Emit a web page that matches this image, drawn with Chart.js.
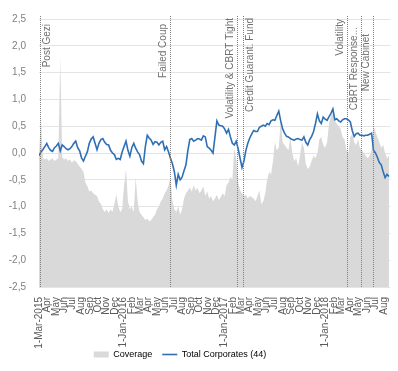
<!DOCTYPE html>
<html>
<head>
<meta charset="utf-8">
<script src="https://cdn.jsdelivr.net/npm/chart.js@4.4.1/dist/chart.umd.min.js"></script>
<style>
  html, body { margin: 0; padding: 0; background: #ffffff; }
  #wrap { width: 398px; height: 371px; }
</style>
</head>
<body>
<div id="wrap"><canvas id="c" width="398" height="371"></canvas></div>
<script>
// Weekly observations starting 1 March 2015 (one value per week).
const START = Date.UTC(2015, 2, 1);
const DAY_MS = 86400000;
const MONTH_NAMES = ['Jan', 'Feb', 'Mar', 'Apr', 'May', 'Jun', 'Jul', 'Aug', 'Sep', 'Oct', 'Nov', 'Dec'];

const TOTAL_CORPORATES = [
  -0.05, 0.02, 0.06, 0.12, 0.18, 0.10, 0.05, 0.03, 0.10, 0.13,
  0.18, 0.04, 0.15, 0.12, 0.08, 0.06, 0.08, 0.12, 0.18, 0.22,
  0.10, 0.04, -0.09, -0.15, -0.06, 0.02, 0.18, 0.26, 0.30, 0.18,
  0.06, 0.18, 0.25, 0.27, 0.20, 0.16, 0.15, 0.05, 0.00, -0.03,
  -0.12, -0.10, -0.12, 0.02, 0.12, 0.22, 0.05, -0.06, 0.10, 0.18,
  0.09, 0.02, -0.03, -0.15, -0.20, 0.12, 0.33, 0.28, 0.24, 0.16,
  0.21, 0.20, 0.15, 0.20, 0.22, 0.06, 0.12, 0.02, -0.10, -0.20,
  -0.35, -0.60, -0.40, -0.50, -0.45, -0.33, -0.22, 0.05, 0.25, 0.27,
  0.22, 0.24, 0.27, 0.26, 0.24, 0.32, 0.30, 0.12, 0.09, 0.05,
  0.00, 0.30, 0.60, 0.52, 0.51, 0.50, 0.45, 0.37, 0.44, 0.30,
  0.18, 0.15, 0.22, 0.08, -0.10, -0.27, -0.15, 0.05, 0.18, 0.28,
  0.35, 0.42, 0.40, 0.40, 0.48, 0.50, 0.52, 0.50, 0.55, 0.53,
  0.60, 0.62, 0.61, 0.70, 0.78, 0.60, 0.45, 0.37, 0.31, 0.30,
  0.27, 0.25, 0.24, 0.26, 0.27, 0.25, 0.24, 0.30, 0.20, 0.15,
  0.25, 0.31, 0.40, 0.55, 0.73, 0.60, 0.55, 0.67, 0.63, 0.61,
  0.68, 0.74, 0.82, 0.62, 0.64, 0.60, 0.58, 0.62, 0.64, 0.64,
  0.62, 0.58, 0.42, 0.31, 0.36, 0.37, 0.33, 0.33, 0.32, 0.33,
  0.33, 0.35, 0.37, 0.05, 0.00, -0.08, -0.18, -0.22, -0.35, -0.46,
  -0.40, -0.44
];

const COVERAGE = [
  -0.05, 0.70, -0.10, -0.12, -0.10, -0.15, -0.12, -0.10, -0.15, -0.12,
  -0.10, 1.80, -0.08, -0.12, -0.10, -0.15, -0.12, -0.18, -0.14, -0.15,
  -0.20, -0.25, -0.30, -0.35, -0.55, -0.62, -0.72, -0.70, -0.75, -0.78,
  -0.80, -0.90, -0.95, -1.05, -1.10, -1.05, -1.12, -1.05, -1.10, -0.95,
  -0.78, -1.00, -1.10, -1.05, -0.60, -0.30, -0.90, -1.05, -1.00, -1.10,
  -0.45, -0.90, -1.10, -1.15, -1.20, -1.25, -1.22, -1.28, -1.25, -1.20,
  -1.15, -1.05, -1.00, -0.90, -0.85, -0.75, -0.70, -0.60, -0.45, -0.90,
  -1.05, -1.10, -1.00, -1.15, -1.05, -0.85, -0.75, -0.70, -0.65, -0.72,
  -0.60, -0.70, -0.65, -0.75, -0.70, -0.62, -0.80, -0.72, -0.85, -0.80,
  -0.90, -0.85, -0.78, -0.88, -0.82, -0.75, -0.80, -0.60, -0.55, -0.45,
  -0.50, 0.10, -0.10, -0.55, -0.70, -0.75, -0.80, -0.78, -0.85, -0.80,
  -0.82, -0.85, -0.90, -0.80, -0.70, -0.95, -0.90, -0.75, -0.50, -0.35,
  -0.40, -0.15, 0.20, 0.05, 0.10, 0.60, 0.20, 0.15, 0.10, 0.05,
  0.30, 0.00, -0.15, -0.10, -0.25, -0.05, 0.20, 0.10, -0.20, -0.30,
  -0.25, -0.15, -0.05, -0.10, 0.00, 0.25, 0.30, 0.15, 0.10, 0.20,
  0.55, 0.70, 0.75, 0.60, 0.55, 0.50, 0.45, 0.30, 0.25, 0.05,
  0.00, 0.30, 0.35, 0.20, 0.15, 0.25, 0.10, 0.05, 0.00, -0.05,
  -0.10, -0.05, 0.05, 0.50, 0.40, 0.30, 0.20, 0.10, 0.15, 0.00,
  -0.10, -0.05
];

// Event markers, as days after 1 March 2015.
const EVENT_DAYS = [2, 475, 717, 740, 1114, 1165, 1210];
const EVENT_LABELS = ['Post Gezi', 'Failed Coup', 'Volatility & CBRT Tight', 'Credit Guarant. Fund',
                      'Volatility', 'CBRT Response...', 'New Cabinet'];

// Month starts used as x-axis ticks (1 Mar 2015 .. 1 Aug 2018).
const MONTH_COUNT = 42;
const MONTH_DAYS = [];
const MONTH_TEXT = [];
for (let m = 0; m < MONTH_COUNT; m++) {
  const d = new Date(Date.UTC(2015, 2 + m, 1));
  MONTH_DAYS.push((d.getTime() - START) / DAY_MS);
  const mon = d.getUTCMonth();
  MONTH_TEXT.push(m === 0 || mon === 0 ? '1-' + MONTH_NAMES[mon] + '-' + d.getUTCFullYear() : MONTH_NAMES[mon]);
}

const weekly = arr => arr.map((v, i) => ({ x: i * 7, y: v }));

const FONT = '"Liberation Sans", Arial, sans-serif';
const BLUE = '#2e6fb5';
const GREY = '#d9d9d9';

const eventMarkers = {
  id: 'eventMarkers',
  afterLayout(chart, args, opts) {
    // the legend sits a little left of the canvas centre and slightly higher
    const lg = chart.legend;
    if (lg) {
      lg.left -= opts.legendShiftX;
      lg.right -= opts.legendShiftX;
      lg.top -= opts.legendShiftY;
      lg.bottom -= opts.legendShiftY;
    }
  },
  afterDatasetsDraw(chart, args, opts) {
    const { ctx, chartArea, scales: { x } } = chart;
    ctx.save();
    ctx.strokeStyle = '#808080';
    ctx.lineWidth = 1;
    ctx.setLineDash([1, 1]);
    EVENT_DAYS.forEach(d => {
      const px = Math.round(x.getPixelForValue(d)) + 0.5;
      ctx.beginPath();
      ctx.moveTo(px, chartArea.top - 3);
      ctx.lineTo(px, chartArea.bottom);
      ctx.stroke();
    });
    ctx.setLineDash([]);
    ctx.font = '10px ' + FONT;
    ctx.fillStyle = '#707070';
    EVENT_DAYS.forEach((d, i) => {
      const px = Math.round(x.getPixelForValue(d)) + 0.5;
      const after = opts.rightSide.includes(i);
      ctx.save();
      ctx.translate(after ? px + 2 : px - 2, chartArea.top + opts.offsets[i]);
      ctx.rotate(-Math.PI / 2);
      ctx.textAlign = 'right';
      ctx.textBaseline = after ? 'top' : 'bottom';
      ctx.fillText(EVENT_LABELS[i], 0, 0);
      ctx.restore();
    });
    ctx.restore();
  }
};

new Chart(document.getElementById('c'), {
  type: 'line',
  data: {
    datasets: [
      {
        label: 'Coverage',
        data: weekly(COVERAGE),
        order: 1,
        fill: 'start',
        backgroundColor: GREY,
        borderColor: 'rgba(0,0,0,0)',
        borderWidth: 0,
        pointRadius: 0,
        tension: 0
      },
      {
        label: 'Total Corporates (44)',
        data: weekly(TOTAL_CORPORATES),
        order: 0,
        fill: false,
        borderColor: BLUE,
        borderWidth: 1.6,
        pointRadius: 0,
        tension: 0
      }
    ]
  },
  options: {
    responsive: false,
    animation: false,
    devicePixelRatio: 1,
    layout: { padding: { top: 10, right: 0, bottom: -7, left: 0 } },
    scales: {
      x: {
        type: 'linear',
        min: 0,
        max: 1272,
        afterBuildTicks: s => { s.ticks = MONTH_DAYS.map(v => ({ value: v })); },
        afterFit: s => { s.height = 62; },
        grid: { display: false },
        border: { display: false },
        ticks: {
          autoSkip: false,
          minRotation: 90,
          maxRotation: 90,
          padding: 2,
          color: '#5a5a5a',
          font: { family: FONT, size: 10 },
          callback: v => MONTH_TEXT[MONTH_DAYS.indexOf(v)]
        }
      },
      y: {
        min: -2.5,
        max: 2.5,
        afterFit: s => { s.width = 39; },
        grid: { color: '#e4e4e4', drawTicks: false },
        border: { display: false },
        ticks: {
          stepSize: 0.5,
          padding: 13,
          color: '#808080',
          font: { family: FONT, size: 10 },
          callback: v => v.toFixed(1).replace('.', ',')
        }
      }
    },
    plugins: {
      tooltip: { enabled: false },
      legend: {
        position: 'bottom',
        labels: {
          usePointStyle: true,
          pointStyleWidth: 15,
          boxHeight: 6,
          padding: 10,
          color: '#404040',
          font: { family: FONT, size: 9 },
          generateLabels: () => [
            { text: 'Coverage', fillStyle: GREY, strokeStyle: GREY, lineWidth: 0, pointStyle: 'rect', datasetIndex: 0, hidden: false },
            { text: 'Total Corporates (44)', fillStyle: BLUE, strokeStyle: BLUE, lineWidth: 1.6, pointStyle: 'line', datasetIndex: 1, hidden: false }
          ]
        }
      },
      eventMarkers: {
        legendShiftX: 19,
        legendShiftY: 9,
        rightSide: [0, 3],
        offsets: [5, 5, -1, -1, 0, 8, 15]
      }
    }
  },
  plugins: [eventMarkers]
});
</script>
</body>
</html>
